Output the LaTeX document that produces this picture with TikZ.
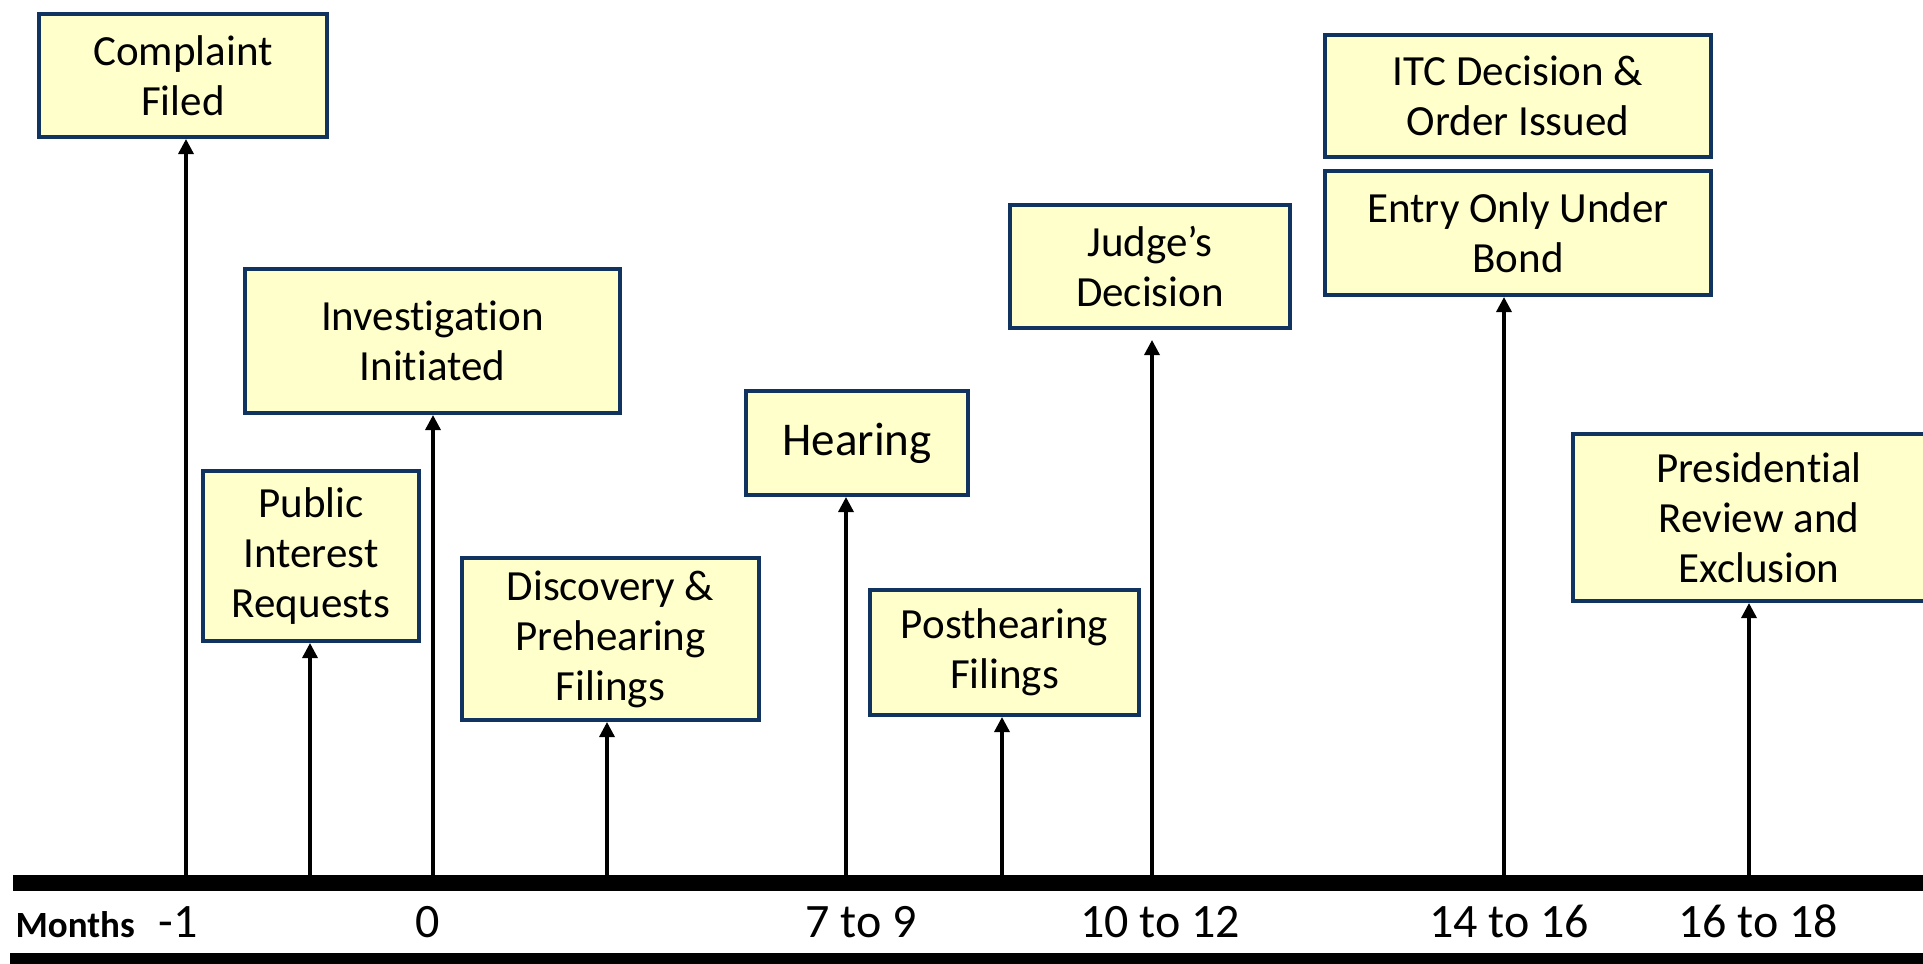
\documentclass[tikz,border=0pt]{standalone}
\usepackage{fontspec}
\setmainfont{Carlito}[Ligatures=NoCommon]
\usepackage{xcolor}
\definecolor{Deep Navy}{HTML}{10345F}
\definecolor{Pale Butter}{HTML}{FFFFCC}
\colorlet{cNavy}{Deep Navy}
\colorlet{cCream}{Pale Butter}
\usepackage{tikz}
\usetikzlibrary{arrows.meta, positioning}
\tikzset{
	x = 1pt,
	y = -1pt,
	>={Triangle[length=15pt, width=15pt]},
	event/.style={
		draw=cNavy,
		fill=cCream,
		line width=4pt,
		inner sep=0pt,
		align=center,
		font=\fontsize{43}{50}\selectfont
	},
	tick label/.style={
		anchor=base,
		font=\fontsize{48}{56}\selectfont
	},
	rise/.style={
		->,
		line width=3.3pt
	}
}

\begin{document}
\begin{tikzpicture}
		\useasboundingbox (0,0) rectangle (1923,964);

		\node[event, minimum width=288pt, minimum height=123pt] at (183,75.5) (cf) {Complaint\\Filed};
		\node[event, minimum width=216pt, minimum height=170pt] at (311,556) (pir) {Public\\Interest\\Requests};
		\node[event, minimum width=375pt, minimum height=144pt] at (432.5,341) (inv) {Investigation\\Initiated};
		\node[event, minimum width=297pt, minimum height=162pt] at (610.5,639) (disc) {Discovery \&\\Prehearing\\Filings};
		\node[event, minimum width=222pt, minimum height=104pt, font=\fontsize{47}{55}\selectfont] at (857,443) (hear) {Hearing};
		\node[event, minimum width=269pt, minimum height=125pt] at (1004.5,652.5) (post) {Posthearing\\Filings};
		\node[event, minimum width=280pt, minimum height=123pt] at (1150,266.5) (judge) {Judge’s\\Decision};
		\node[event, minimum width=386pt, minimum height=122pt] at (1518,96) (itc) {ITC Decision \&\\Order Issued};
		\node[event, minimum width=386pt, minimum height=124pt, below=10pt of itc] (entry) {Entry Only Under\\Bond};
		\node[event, minimum width=372pt, minimum height=167pt] at (1759,517.5) (pres) {Presidential\\Review and\\Exclusion};

		\coordinate (t1) at (186,880);
		\coordinate (t2) at (310,880);
		\coordinate (t3) at (433,880);
		\coordinate (t4) at (607,880);
		\coordinate (t5) at (846,880);
		\coordinate (t6) at (1002,880);
		\coordinate (t7) at (1152,880);
		\coordinate (t8) at (1504,880);
		\coordinate (t9) at (1749,880);

		\draw[rise] (t1) -- (t1 |- cf.south);
		\draw[rise] (t2) -- (t2 |- pir.south);
		\draw[rise] (t3) -- (t3 |- inv.south);
		\draw[rise] (t4) -- (t4 |- disc.south);
		\draw[rise] (t5) -- (t5 |- hear.south);
		\draw[rise] (t6) -- (t6 |- post.south);
		\draw[rise, shorten >=10pt] (t7) -- (t7 |- judge.south);
		\draw[rise] (t8) -- (t8 |- entry.south);
		\draw[rise] (t9) -- (t9 |- pres.south);

		% timeline bars
		\fill (13,875) rectangle (1923,891);
		\fill (10,953) rectangle (1923,964);

		\node[anchor=base west, font=\bfseries\fontsize{37}{44}\selectfont] at (12,937) (months) {Months};
		\node[tick label] at (178,937) (m1) {-1};
		\node[tick label] at (428,937) (m2) {0};
		\node[tick label] at (861,937) (m3) {7 to 9};
		\node[tick label] at (1160,937) (m4) {10 to 12};
		\node[tick label] at (1509,937) (m5) {14 to 16};
		\node[tick label] at (1758,937) (m6) {16 to 18};
	\end{tikzpicture}
\end{document}
